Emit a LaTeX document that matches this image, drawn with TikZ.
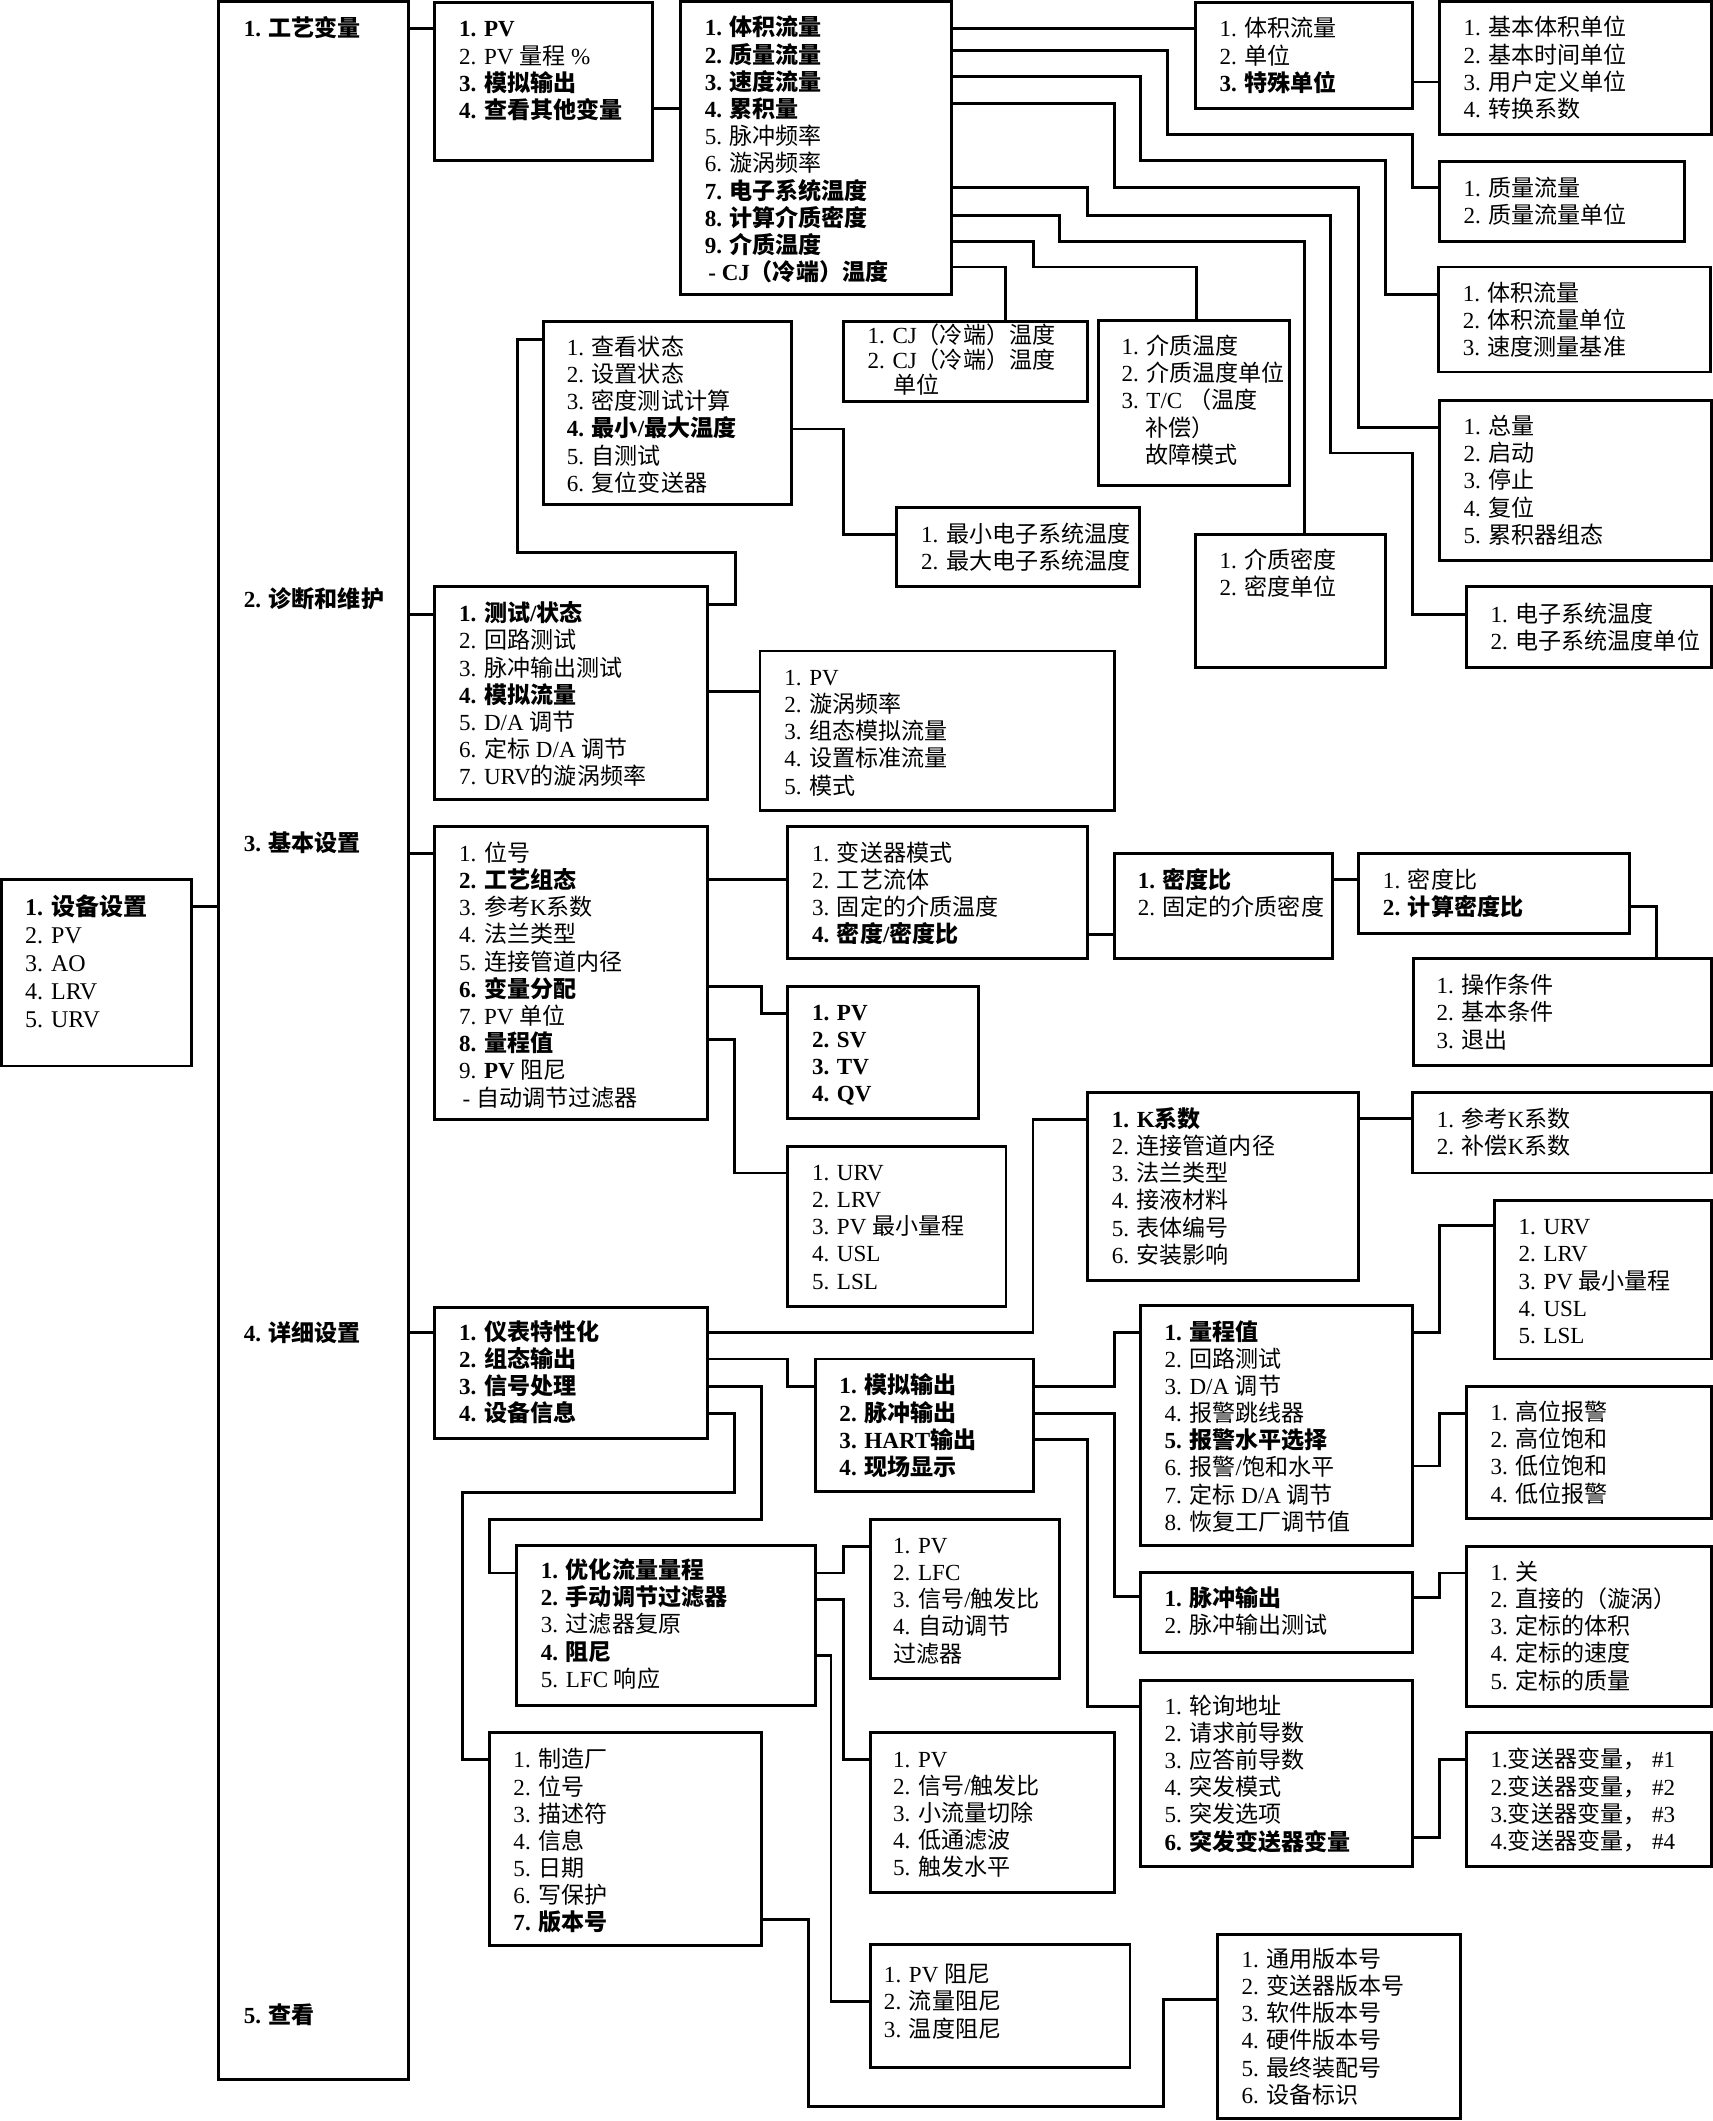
\documentclass[tikz,border=0pt]{standalone}
\usepackage{fontspec}
\setmainfont{Liberation Serif}
\newfontfamily\cjkfont{Noto Sans CJK SC}
\usetikzlibrary{fit}

\newXeTeXintercharclass\cjkclass
\newcount\cjkcode
\cjkcode="4E00
\loop \XeTeXcharclass\cjkcode=\cjkclass \ifnum\cjkcode<"9FFF \advance\cjkcode by 1 \repeat
\cjkcode="3000
\loop \XeTeXcharclass\cjkcode=\cjkclass \ifnum\cjkcode<"303F \advance\cjkcode by 1 \repeat
\cjkcode="FF00
\loop \XeTeXcharclass\cjkcode=\cjkclass \ifnum\cjkcode<"FFEF \advance\cjkcode by 1 \repeat
\XeTeXinterchartoks 0 \cjkclass = {\begingroup\cjkfont}
\XeTeXinterchartoks 4095 \cjkclass = {\begingroup\cjkfont}
\XeTeXinterchartoks \cjkclass 0 = {\endgroup}
\XeTeXinterchartoks \cjkclass 4095 = {\endgroup}

\newcommand\lstfont{\fontsize{9.7pt}{11.44pt}\selectfont}
\newcommand\topstrut{\rule{0pt}{9pt}}

\begin{document}
\XeTeXinterchartokenstate=1
\begin{tikzpicture}[x=0.02cm,y=-0.02cm,line width=1.2pt,
  box/.style={draw,inner sep=0pt},
  lst/.style={anchor=north west,inner sep=0pt,align=left,font=\lstfont},
  lbl/.style={anchor=base west,inner sep=0pt,font=\lstfont}]
\useasboundingbox (0,0) rectangle (1266,1568);

\node[box,fit={(1.4,650.4) (141.7,788.1)}] (main) {};
\node[lst,font=\fontsize{10.1pt}{11.8pt}\selectfont] (maint) at ([shift={(17.2,10.4)}]main.north west) {\topstrut\textbf{1. 设备设置}\\2. PV\\3. AO\\4. LRV\\5. URV};

\node[box,fit={(161.4,1.3) (302.3,1537.1)}] (col) {};
\node[lbl] (proc) at (179.2,26.7) {\textbf{1. 工艺变量}};
\node[lbl] (diag) at (179.2,449.2) {\textbf{2. 诊断和维护}};
\node[lbl] (setup) at (179.2,629.5) {\textbf{3. 基本设置}};
\node[lbl] (detl) at (179.2,991.6) {\textbf{4. 详细设置}};
\node[lbl] (review) at (179.2,1495.6) {\textbf{5. 查看}};

\node[box,fit={(321.4,2.0) (482.5,118.4)}] (pv) {};
\node[lst] (pvt) at ([shift={(18,9.5)}]pv.north west) {\topstrut\textbf{1. PV}\\2. PV 量程 \%\\\textbf{3. 模拟输出}\\\textbf{4. 查看其他变量}};

\node[box,fit={(503.0,1.3) (703.2,217.7)}] (flow) {};
\node[lst] (flowt) at ([shift={(18,9.5)}]flow.north west) {\topstrut\textbf{1. 体积流量}\\\textbf{2. 质量流量}\\\textbf{3. 速度流量}\\\textbf{4. 累积量}\\5. 脉冲频率\\6. 漩涡频率\\\textbf{7. 电子系统温度}\\\textbf{8. 计算介质密度}\\\textbf{9. 介质温度}\\\hspace*{1.5pt}\textbf{- CJ（冷端）温度}};

\node[box,fit={(883.6,2.0) (1044.2,80.2)}] (vol) {};
\node[lst] (volt) at ([shift={(18,9.5)}]vol.north west) {\topstrut 1. 体积流量\\2. 单位\\\textbf{3. 特殊单位}};

\node[box,fit={(1064.0,1.3) (1265.2,99.3)}] (volu) {};
\node[lst] (volut) at ([shift={(18,9.5)}]volu.north west) {\topstrut 1. 基本体积单位\\2. 基本时间单位\\3. 用户定义单位\\4. 转换系数};

\node[box,fit={(1064.0,119.7) (1245.1,178.3)}] (mass) {};
\node[lst] (masst) at ([shift={(18,9.5)}]mass.north west) {\topstrut 1. 质量流量\\2. 质量流量单位};

\node[box,fit={(1063.4,197.4) (1264.3,275.0)}] (velo) {};
\node[lst] (velot) at ([shift={(18,9.5)}]velo.north west) {\topstrut 1. 体积流量\\2. 体积流量单位\\3. 速度测量基准};

\node[box,fit={(1064.0,295.9) (1265.2,414.4)}] (total) {};
\node[lst] (totalt) at ([shift={(18,9.5)}]total.north west) {\topstrut 1. 总量\\2. 启动\\3. 停止\\4. 复位\\5. 累积器组态};

\node[box,fit={(623.4,237.4) (803.9,296.7)}] (cj) {};
\node[lst,font=\fontsize{9.7pt}{10.5pt}\selectfont] (cjt) at ([shift={(18,0.5)}]cj.north west) {\topstrut 1. CJ（冷端）温度\\2. CJ（冷端）温度\\\hspace*{10.9pt}单位};

\node[box,fit={(812.1,236.8) (953.1,359.1)}] (ptemp) {};
\node[lst] (ptempt) at ([shift={(17,9.5)}]ptemp.north west) {\topstrut 1. 介质温度\\2. 介质温度单位\\3. T/C （温度\\\hspace*{10.2pt}补偿）\\\hspace*{10.2pt}故障模式};

\node[box,fit={(402.1,237.4) (585.1,373.1)}] (status) {};
\node[lst] (statust) at ([shift={(17,9.5)}]status.north west) {\topstrut 1. 查看状态\\2. 设置状态\\3. 密度测试计算\\\textbf{4. 最小/最大温度}\\5. 自测试\\6. 复位变送器};

\node[box,fit={(663.0,374.9) (842.2,433.8)}] (minmax) {};
\node[lst] (minmaxt) at ([shift={(18,10.5)}]minmax.north west) {\topstrut 1. 最小电子系统温度\\2. 最大电子系统温度};

\node[box,fit={(883.6,394.9) (1024.5,493.5)}] (pdens) {};
\node[lst] (pdenst) at ([shift={(18,9.5)}]pdens.north west) {\topstrut 1. 介质密度\\2. 密度单位};

\node[box,fit={(1084.0,433.8) (1265.2,493.5)}] (etemp) {};
\node[lst] (etempt) at ([shift={(18,10.5)}]etemp.north west) {\topstrut 1. 电子系统温度\\2. 电子系统温度单位};

\node[box,fit={(321.4,433.8) (523.0,591.3)}] (test) {};
\node[lst] (testt) at ([shift={(18,10)}]test.north west) {\topstrut\textbf{1. 测试/状态}\\2. 回路测试\\3. 脉冲输出测试\\\textbf{4. 模拟流量}\\5. D/A 调节\\6. 定标 D/A 调节\\7. URV的漩涡频率};

\node[box,fit={(561.8,481.3) (823.6,599.3)}] (sim) {};
\node[lst] (simt) at ([shift={(18,9.5)}]sim.north west) {\topstrut 1. PV\\2. 漩涡频率\\3. 组态模拟流量\\4. 设置标准流量\\5. 模式};

\node[box,fit={(321.4,611.0) (523.0,827.8)}] (basic) {};
\node[lst] (basict) at ([shift={(18,10)}]basic.north west) {\topstrut 1. 位号\\\textbf{2. 工艺组态}\\3. 参考K系数\\4. 法兰类型\\5. 连接管道内径\\\textbf{6. 变量分配}\\7. PV 单位\\\textbf{8. 量程值}\\9. \textbf{PV} 阻尼\\\hspace*{1.5pt}- 自动调节过滤器};

\node[box,fit={(582.3,611.0) (803.9,708.8)}] (xmode) {};
\node[lst] (xmodet) at ([shift={(18,10)}]xmode.north west) {\topstrut 1. 变送器模式\\2. 工艺流体\\3. 固定的介质温度\\\textbf{4. 密度/密度比}};

\node[box,fit={(823.6,630.9) (985.2,708.8)}] (dratio) {};
\node[lst] (dratiot) at ([shift={(17.5,10)}]dratio.north west) {\topstrut\textbf{1. 密度比}\\2. 固定的介质密度};

\node[box,fit={(1004.4,630.9) (1204.8,690.1)}] (dcalc) {};
\node[lst] (dcalct) at ([shift={(18,10)}]dcalc.north west) {\topstrut 1. 密度比\\\textbf{2. 计算密度比}};

\node[box,fit={(1044.8,708.8) (1265.2,787.9)}] (cond) {};
\node[lst] (condt) at ([shift={(17.3,10)}]cond.north west) {\topstrut 1. 操作条件\\2. 基本条件\\3. 退出};

\node[box,fit={(582.3,729.5) (723.2,827.0)}] (vars) {};
\node[lst] (varst) at ([shift={(18,9)}]vars.north west) {\topstrut\textbf{1. PV}\\\textbf{2. SV}\\\textbf{3. TV}\\\textbf{4. QV}};

\node[box,fit={(582.3,847.8) (743.7,965.8)}] (range1) {};
\node[lst] (range1t) at ([shift={(18,9)}]range1.north west) {\topstrut 1. URV\\2. LRV\\3. PV 最小量程\\4. USL\\5. LSL};

\node[box,fit={(803.9,807.6) (1004.4,946.4)}] (kfac) {};
\node[lst] (kfact) at ([shift={(18,10)}]kfac.north west) {\topstrut\textbf{1. K系数}\\2. 连接管道内径\\3. 法兰类型\\4. 接液材料\\5. 表体编号\\6. 安装影响};

\node[box,fit={(1044.2,807.6) (1265.2,867.2)}] (kref) {};
\node[lst] (kreft) at ([shift={(18,10)}]kref.north west) {\topstrut 1. 参考K系数\\2. 补偿K系数};

\node[box,fit={(321.4,966.6) (523.0,1063.6)}] (detail) {};
\node[lst] (detailt) at ([shift={(18,8.5)}]detail.north west) {\topstrut\textbf{1. 仪表特性化}\\\textbf{2. 组态输出}\\\textbf{3. 信号处理}\\\textbf{4. 设备信息}};

\node[box,fit={(602.9,1004.7) (764.2,1102.7)}] (output) {};
\node[lst] (outputt) at ([shift={(17.7,10)}]output.north west) {\topstrut\textbf{1. 模拟输出}\\\textbf{2. 脉冲输出}\\\textbf{3. HART输出}\\\textbf{4. 现场显示}};

\node[box,fit={(843.3,965.3) (1044.2,1142.7)}] (aout) {};
\node[lst] (aoutt) at ([shift={(17.6,9.5)}]aout.north west) {\topstrut\textbf{1. 量程值}\\2. 回路测试\\3. D/A 调节\\4. 报警跳线器\\\textbf{5. 报警水平选择}\\6. 报警/饱和水平\\7. 定标 D/A 调节\\8. 恢复工厂调节值};

\node[box,fit={(1104.6,887.5) (1265.2,1004.7)}] (range2) {};
\node[lst] (range2t) at ([shift={(18,9.5)}]range2.north west) {\topstrut 1. URV\\2. LRV\\3. PV 最小量程\\4. USL\\5. LSL};

\node[box,fit={(1084.0,1024.9) (1265.2,1122.7)}] (alarm) {};
\node[lst] (alarmt) at ([shift={(18,9.5)}]alarm.north west) {\topstrut 1. 高位报警\\2. 高位饱和\\3. 低位饱和\\4. 低位报警};

\node[box,fit={(843.3,1162.4) (1044.2,1221.4)}] (pulse) {};
\node[lst] (pulset) at ([shift={(17.6,9.5)}]pulse.north west) {\topstrut\textbf{1. 脉冲输出}\\2. 脉冲输出测试};

\node[box,fit={(1084.0,1143.5) (1265.2,1261.5)}] (pmode) {};
\node[lst] (pmodet) at ([shift={(18,9)}]pmode.north west) {\topstrut 1. 关\\2. 直接的（漩涡）\\3. 定标的体积\\4. 定标的速度\\5. 定标的质量};

\node[box,fit={(843.3,1242.4) (1044.2,1379.6)}] (hart) {};
\node[lst] (hartt) at ([shift={(17.6,9)}]hart.north west) {\topstrut 1. 轮询地址\\2. 请求前导数\\3. 应答前导数\\4. 突发模式\\5. 突发选项\\\textbf{6. 突发变送器变量}};

\node[box,fit={(1084.0,1280.6) (1265.2,1379.6)}] (xvar) {};
\node[lst] (xvart) at ([shift={(18,10.5)}]xvar.north west) {\topstrut 1.变送器变量， \#1\\2.变送器变量， \#2\\3.变送器变量， \#3\\4.变送器变量， \#4};

\node[box,fit={(381.6,1142.7) (602.9,1260.7)}] (signal) {};
\node[lst] (signalt) at ([shift={(18.3,8.5)}]signal.north west) {\topstrut\textbf{1. 优化流量量程}\\\textbf{2. 手动调节过滤器}\\3. 过滤器复原\\\textbf{4. 阻尼}\\5. LFC 响应};

\node[box,fit={(643.3,1123.5) (783.4,1241.1)}] (lfc) {};
\node[lst] (lfct) at ([shift={(17,9)}]lfc.north west) {\topstrut 1. PV\\2. LFC\\3. 信号/触发比\\4. 自动调节\\过滤器};

\node[box,fit={(643.3,1280.6) (823.6,1399.3)}] (sigtrig) {};
\node[lst] (sigtrigt) at ([shift={(17,10)}]sigtrig.north west) {\topstrut 1. PV\\2. 信号/触发比\\3. 小流量切除\\4. 低通滤波\\5. 触发水平};

\node[box,fit={(643.3,1437.5) (835.4,1528.6)}] (damp) {};
\node[lst] (dampt) at ([shift={(10.2,12.4)}]damp.north west) {\topstrut 1. PV 阻尼\\2. 流量阻尼\\3. 温度阻尼};

\node[box,fit={(361.6,1280.6) (563.2,1438.3)}] (info) {};
\node[lst] (infot) at ([shift={(18,10.5)}]info.north west) {\topstrut 1. 制造厂\\2. 位号\\3. 描述符\\4. 信息\\5. 日期\\6. 写保护\\\textbf{7. 版本号}};

\node[box,fit={(900.1,1429.9) (1079.9,1566.4)}] (rev) {};
\node[lst] (revt) at ([shift={(17.8,8.7)}]rev.north west) {\topstrut 1. 通用版本号\\2. 变送器版本号\\3. 软件版本号\\4. 硬件版本号\\5. 最终装配号\\6. 设备标识};

\draw (main.east |- 0,669.9) -- (col.west |- 0,669.9);
\draw (col.east |- 0,20.9) -- (pv.west |- 0,20.9);
\draw (col.east |- 0,454.0) -- (test.west |- 0,454.0);
\draw (col.east |- 0,630.9) -- (basic.west |- 0,630.9);
\draw (col.east |- 0,985.3) -- (detail.west |- 0,985.3);
\draw (pv.east |- 0,80.2) -- (flow.west |- 0,80.2);
\draw (flow.east |- 0,20.9) -- (vol.west |- 0,20.9);
\draw (vol.east |- 0,60.6) -- (volu.west |- 0,60.6);
\draw (flow.east |- 0,37.4) -| (863.1,99.3) -| (1044.2,138.8) -- (mass.west |- 0,138.8);
\draw (flow.east |- 0,56.5) -| (843.3,118.4) -| (1024.5,217.7) -- (velo.west |- 0,217.7);
\draw (flow.east |- 0,76.4) -| (823.6,138.8) -| (1004.4,315.8) -- (total.west |- 0,315.8);
\draw (flow.east |- 0,138.8) -| (803.9,159.2) -| (983.8,334.9) -| (1044.2,454.0) -- (etemp.west |- 0,454.0);
\draw (flow.east |- 0,159.2) -| (783.4,178.3) -| (pdens.north -| 964.1,0);
\draw (flow.east |- 0,178.3) -| (764.2,197.4) -| (ptemp.north -| 884.5,0);
\draw (flow.east |- 0,197.4) -| (cj.north -| 743.2,0);
\draw (test.east |- 0,446.8) -| (543.5,408.4) -| (382.4,250.8) -- (status.west |- 0,250.8);
\draw (status.east |- 0,317.1) -| (623.4,394.9) -- (minmax.west |- 0,394.9);
\draw (test.east |- 0,510.9) -- (sim.west |- 0,510.9);
\draw (basic.east |- 0,650.4) -- (xmode.west |- 0,650.4);
\draw (xmode.east |- 0,690.6) -- (dratio.west |- 0,690.6);
\draw (dratio.east |- 0,650.4) -- (dcalc.west |- 0,650.4);
\draw (dcalc.east |- 0,669.9) -| (cond.north -| 1224.8,0);
\draw (basic.east |- 0,729.5) -| (563.2,749.0) -- (vars.west |- 0,749.0);
\draw (basic.east |- 0,768.4) -| (542.7,867.2) -- (range1.west |- 0,867.2);
\draw (detail.east |- 0,985.3) -| (763.7,827.8) -- (kfac.west |- 0,827.8);
\draw (kfac.east |- 0,827.0) -- (kref.west |- 0,827.0);
\draw (detail.east |- 0,1004.7) -| (582.3,1024.7) -- (output.west |- 0,1024.7);
\draw (detail.east |- 0,1024.7) -| (563.2,1123.5) -| (361.6,1162.9) -- (signal.west |- 0,1162.9);
\draw (detail.east |- 0,1045.0) -| (542.7,1103.2) -| (341.9,1300.5) -- (info.west |- 0,1300.5);
\draw (output.east |- 0,1024.7) -| (823.6,985.3) -- (aout.west |- 0,985.3);
\draw (output.east |- 0,1045.0) -| (823.6,1180.5) -- (pulse.west |- 0,1180.5);
\draw (output.east |- 0,1064.4) -| (804.0,1261.5) -- (hart.west |- 0,1261.5);
\draw (aout.east |- 0,985.3) -| (1064.0,906.1) -- (range2.west |- 0,906.1);
\draw (aout.east |- 0,1083.8) -| (1064.0,1044.9) -- (alarm.west |- 0,1044.9);
\draw (pulse.east |- 0,1181.1) -| (1064.0,1162.9) -- (pmode.west |- 0,1162.9);
\draw (hart.east |- 0,1358.5) -| (1064.0,1300.5) -- (xvar.west |- 0,1300.5);
\draw (signal.east |- 0,1162.9) -| (623.4,1143.5) -- (lfc.west |- 0,1143.5);
\draw (signal.east |- 0,1182.4) -| (623.4,1300.5) -- (sigtrig.west |- 0,1300.5);
\draw (signal.east |- 0,1224.0) -| (614.3,1479.6) -- (damp.west |- 0,1479.6);
\draw (info.east |- 0,1418.9) -| (597.9,1557.5) -| (860.3,1478.4) -- (rev.west |- 0,1478.4);
\end{tikzpicture}
\end{document}
